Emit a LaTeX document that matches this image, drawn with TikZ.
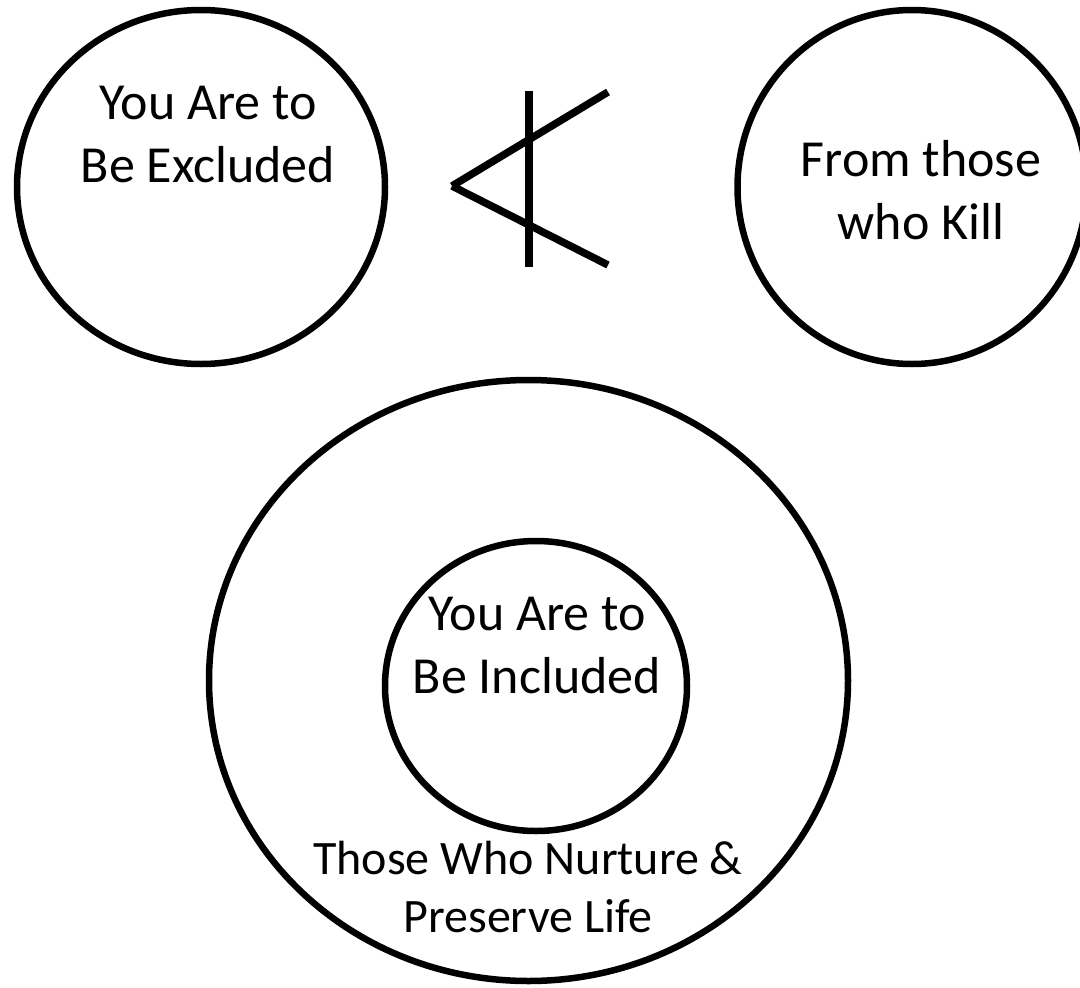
\documentclass[tikz,border=0pt]{standalone}
\usepackage{fontspec}
\setmainfont{Carlito}
\usetikzlibrary{shapes.geometric}
\tikzset{
  ring/.style={draw=black, line width=6.5pt, ellipse, inner sep=0pt, fill=none},
  label/.style={align=center, inner sep=0pt, anchor=base, font=\fontsize{52}{63}\selectfont},
  smalllabel/.style={label, font=\fontsize{48}{58}\selectfont},
  symline/.style={draw=black, line width=7.5pt, line cap=butt}
}
\begin{document}
\begin{tikzpicture}[x=1pt,y=-1pt]
\useasboundingbox (0,0) rectangle (1080,988);
\fill[white] (0,0) rectangle (1080,988);
% top circles
\node[ring, minimum width=368pt, minimum height=354pt] (excl) at (201,187) {};
\node[ring, minimum width=349pt, minimum height=354pt] (kill) at (912,187) {};
% big and inner circles
\node[ring, minimum width=639pt, minimum height=601pt] (outer) at (528.5,680.5) {};
\node[ring, minimum width=302pt, minimum height=290pt] (inner) at (536,686) {};
% labels (anchor base = baseline of last line)
\node[label] (t1) at (208,182) {You Are to\\Be Excluded};
\node[label] (t2) at (921,239) {From those\\who Kill};
\node[label] (t3) at (537,693) {You Are to\\Be Included};
\node[smalllabel] (t4) at (528,932) {Those Who Nurture \&\\Preserve Life};
% not-subset symbol
\coordinate (apex) at (452,186);
\coordinate (ue) at (608,92);
\coordinate (le) at (608,265);
\coordinate (vt) at (529,91);
\coordinate (vb) at (529,267);
\draw[symline] (apex) -- (ue);
\draw[symline] (apex) -- (le);
\draw[symline] (vt) -- (vb);
\end{tikzpicture}
\end{document}
